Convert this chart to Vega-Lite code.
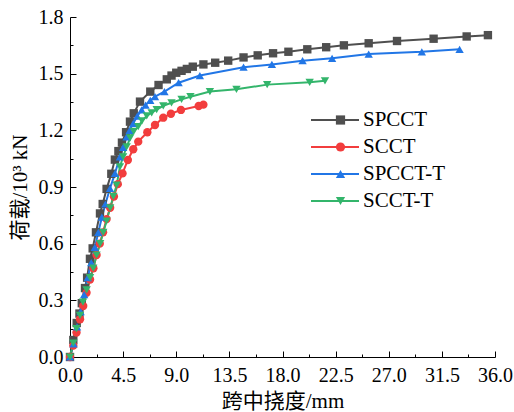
{
  "$schema": "https://vega.github.io/schema/vega-lite/v6.json",
  "width": 425,
  "height": 340,
  "autosize": {"type": "none"},
  "padding": {"left": 70, "top": 17, "right": 19, "bottom": 55},
  "background": "white",
  "config": {
    "view": {"stroke": null},
    "style": {"guide-label": {"font": "Liberation Serif", "fill": "black"}, "guide-title": {"font": "Liberation Serif, Noto Sans CJK SC", "fill": "black", "fontWeight": "normal"}},
    "axis": {"grid": false, "domainColor": "black", "domainWidth": 1, "tickColor": "black", "tickWidth": 1, "labelColor": "black", "titleColor": "black", "labelFont": "Liberation Serif", "titleFont": "Liberation Serif, Noto Sans CJK SC"},
    "legend": {"labelFont": "Liberation Serif"}
  },
  "data": {"values": [
    {"s":"SPCCT","x":0,"y":0},{"s":"SPCCT","x":0.28,"y":0.09},{"s":"SPCCT","x":0.57,"y":0.18},{"s":"SPCCT","x":0.8,"y":0.23},{"s":"SPCCT","x":1.0,"y":0.285},{"s":"SPCCT","x":1.27,"y":0.365},{"s":"SPCCT","x":1.45,"y":0.42},{"s":"SPCCT","x":1.69,"y":0.52},{"s":"SPCCT","x":1.92,"y":0.575},{"s":"SPCCT","x":2.2,"y":0.66},{"s":"SPCCT","x":2.54,"y":0.76},{"s":"SPCCT","x":2.77,"y":0.81},{"s":"SPCCT","x":3.1,"y":0.89},{"s":"SPCCT","x":3.5,"y":0.97},{"s":"SPCCT","x":3.8,"y":1.045},{"s":"SPCCT","x":4.1,"y":1.09},{"s":"SPCCT","x":4.4,"y":1.135},{"s":"SPCCT","x":4.75,"y":1.19},{"s":"SPCCT","x":5.08,"y":1.246},{"s":"SPCCT","x":5.4,"y":1.29},{"s":"SPCCT","x":5.93,"y":1.352},{"s":"SPCCT","x":6.8,"y":1.405},{"s":"SPCCT","x":7.5,"y":1.44},{"s":"SPCCT","x":8.2,"y":1.47},{"s":"SPCCT","x":8.6,"y":1.49},{"s":"SPCCT","x":9.0,"y":1.505},{"s":"SPCCT","x":9.45,"y":1.515},{"s":"SPCCT","x":9.9,"y":1.525},{"s":"SPCCT","x":10.4,"y":1.537},{"s":"SPCCT","x":11.3,"y":1.549},{"s":"SPCCT","x":12.3,"y":1.558},{"s":"SPCCT","x":13.4,"y":1.569},{"s":"SPCCT","x":14.7,"y":1.586},{"s":"SPCCT","x":15.9,"y":1.597},{"s":"SPCCT","x":17.2,"y":1.608},{"s":"SPCCT","x":18.5,"y":1.616},{"s":"SPCCT","x":20.1,"y":1.629},{"s":"SPCCT","x":21.7,"y":1.64},{"s":"SPCCT","x":23.2,"y":1.65},{"s":"SPCCT","x":25.3,"y":1.661},{"s":"SPCCT","x":27.7,"y":1.673},{"s":"SPCCT","x":30.8,"y":1.685},{"s":"SPCCT","x":33.6,"y":1.697},{"s":"SPCCT","x":35.4,"y":1.704},
    {"s":"SCCT","x":0,"y":0},{"s":"SCCT","x":0.28,"y":0.06},{"s":"SCCT","x":0.55,"y":0.13},{"s":"SCCT","x":0.85,"y":0.2},{"s":"SCCT","x":1.12,"y":0.27},{"s":"SCCT","x":1.4,"y":0.34},{"s":"SCCT","x":1.7,"y":0.41},{"s":"SCCT","x":1.98,"y":0.47},{"s":"SCCT","x":2.25,"y":0.54},{"s":"SCCT","x":2.52,"y":0.6},{"s":"SCCT","x":2.8,"y":0.66},{"s":"SCCT","x":3.1,"y":0.73},{"s":"SCCT","x":3.4,"y":0.79},{"s":"SCCT","x":3.72,"y":0.85},{"s":"SCCT","x":4.05,"y":0.915},{"s":"SCCT","x":4.45,"y":0.972},{"s":"SCCT","x":4.9,"y":1.043},{"s":"SCCT","x":5.36,"y":1.1},{"s":"SCCT","x":5.78,"y":1.14},{"s":"SCCT","x":6.55,"y":1.19},{"s":"SCCT","x":7.2,"y":1.228},{"s":"SCCT","x":7.9,"y":1.267},{"s":"SCCT","x":8.55,"y":1.288},{"s":"SCCT","x":9.4,"y":1.308},{"s":"SCCT","x":10.9,"y":1.329},{"s":"SCCT","x":11.3,"y":1.336},
    {"s":"SPCCT-T","x":0,"y":0},{"s":"SPCCT-T","x":0.3,"y":0.07},{"s":"SPCCT-T","x":0.6,"y":0.16},{"s":"SPCCT-T","x":0.9,"y":0.24},{"s":"SPCCT-T","x":1.2,"y":0.33},{"s":"SPCCT-T","x":1.5,"y":0.42},{"s":"SPCCT-T","x":1.8,"y":0.5},{"s":"SPCCT-T","x":2.1,"y":0.58},{"s":"SPCCT-T","x":2.4,"y":0.66},{"s":"SPCCT-T","x":2.7,"y":0.74},{"s":"SPCCT-T","x":3.0,"y":0.81},{"s":"SPCCT-T","x":3.39,"y":0.893},{"s":"SPCCT-T","x":3.81,"y":0.972},{"s":"SPCCT-T","x":4.23,"y":1.06},{"s":"SPCCT-T","x":4.5,"y":1.11},{"s":"SPCCT-T","x":4.8,"y":1.166},{"s":"SPCCT-T","x":5.05,"y":1.2},{"s":"SPCCT-T","x":5.36,"y":1.237},{"s":"SPCCT-T","x":5.7,"y":1.275},{"s":"SPCCT-T","x":6.07,"y":1.308},{"s":"SPCCT-T","x":6.4,"y":1.334},{"s":"SPCCT-T","x":6.8,"y":1.358},{"s":"SPCCT-T","x":7.2,"y":1.378},{"s":"SPCCT-T","x":8.0,"y":1.405},{"s":"SPCCT-T","x":9.2,"y":1.452},{"s":"SPCCT-T","x":11.0,"y":1.49},{"s":"SPCCT-T","x":14.7,"y":1.534},{"s":"SPCCT-T","x":17.1,"y":1.549},{"s":"SPCCT-T","x":19.7,"y":1.569},{"s":"SPCCT-T","x":22.2,"y":1.581},{"s":"SPCCT-T","x":25.3,"y":1.604},{"s":"SPCCT-T","x":29.8,"y":1.616},{"s":"SPCCT-T","x":33.0,"y":1.629},
    {"s":"SCCT-T","x":0,"y":0},{"s":"SCCT-T","x":0.28,"y":0.074},{"s":"SCCT-T","x":0.55,"y":0.15},{"s":"SCCT-T","x":0.85,"y":0.22},{"s":"SCCT-T","x":1.1,"y":0.29},{"s":"SCCT-T","x":1.41,"y":0.355},{"s":"SCCT-T","x":1.7,"y":0.42},{"s":"SCCT-T","x":1.97,"y":0.47},{"s":"SCCT-T","x":2.25,"y":0.54},{"s":"SCCT-T","x":2.55,"y":0.6},{"s":"SCCT-T","x":2.82,"y":0.66},{"s":"SCCT-T","x":3.1,"y":0.72},{"s":"SCCT-T","x":3.4,"y":0.79},{"s":"SCCT-T","x":3.67,"y":0.85},{"s":"SCCT-T","x":3.95,"y":0.91},{"s":"SCCT-T","x":4.23,"y":1.007},{"s":"SCCT-T","x":4.5,"y":1.06},{"s":"SCCT-T","x":4.8,"y":1.113},{"s":"SCCT-T","x":5.1,"y":1.16},{"s":"SCCT-T","x":5.4,"y":1.195},{"s":"SCCT-T","x":5.78,"y":1.219},{"s":"SCCT-T","x":6.1,"y":1.25},{"s":"SCCT-T","x":6.5,"y":1.276},{"s":"SCCT-T","x":6.92,"y":1.293},{"s":"SCCT-T","x":7.34,"y":1.31},{"s":"SCCT-T","x":7.9,"y":1.33},{"s":"SCCT-T","x":8.6,"y":1.346},{"s":"SCCT-T","x":9.45,"y":1.364},{"s":"SCCT-T","x":10.2,"y":1.378},{"s":"SCCT-T","x":11.85,"y":1.405},{"s":"SCCT-T","x":14.1,"y":1.417},{"s":"SCCT-T","x":16.7,"y":1.442},{"s":"SCCT-T","x":20.3,"y":1.454},{"s":"SCCT-T","x":21.6,"y":1.462}
  ]},
  "encoding": {
    "x": {"field": "x", "type": "quantitative", "scale": {"domain": [0, 36], "nice": false},
      "axis": {"title": "跨中挠度/mm", "values": [0,2.25,4.5,6.75,9,11.25,13.5,15.75,18,20.25,22.5,24.75,27,29.25,31.5,33.75,36],
        "labelExpr": "round(datum.value/2.25)%2==0 ? format(datum.value,'.1f') : ''",
        "tickSize": {"condition": {"test": "round(datum.value/2.25)%2==0", "value": -6}, "value": -3},
        "labelFont": "Liberation Serif", "labelFontSize": 20, "titleFont": "Liberation Serif, Noto Sans CJK SC", "titleFontSize": 21, "titleFontWeight": "normal",
        "labelPadding": 14, "labelFlush": false, "labelOverlap": false, "titlePadding": 2}},
    "y": {"field": "y", "type": "quantitative", "scale": {"domain": [0, 1.8], "nice": false},
      "axis": {"title": "荷载/10³ kN", "values": [0,0.15,0.3,0.45,0.6,0.75,0.9,1.05,1.2,1.35,1.5,1.65,1.8],
        "labelExpr": "round(datum.value/0.15)%2==0 ? format(datum.value,'.1f') : ''",
        "tickSize": {"condition": {"test": "round(datum.value/0.15)%2==0", "value": -6}, "value": -3},
        "labelFont": "Liberation Serif", "labelFontSize": 20, "titleFont": "Liberation Serif, Noto Sans CJK SC", "titleFontSize": 21, "titleFontWeight": "normal",
        "labelPadding": 13, "labelFlush": false, "labelOverlap": false, "titlePadding": 8}}
  },
  "layer": [
    {"mark": {"type": "line", "strokeWidth": 2},
      "encoding": {"color": {"field": "s", "type": "nominal", "sort": ["SPCCT", "SCCT", "SPCCT-T", "SCCT-T"],
        "scale": {"range": ["#4f4f4f", "#f23d3d", "#2176e6", "#33b56b"]},
        "legend": {"orient": "none", "legendX": 240, "legendY": 93, "title": null, "padding": 0,
          "symbolType": "stroke", "symbolSize": 2304, "symbolStrokeWidth": 2, "clipHeight": 20, "rowPadding": 6,
          "labelFont": "Liberation Serif", "labelFontSize": 21, "labelColor": "black", "labelOffset": 3, "zindex": 0}}}},
    {"mark": {"type": "point", "filled": true, "opacity": 1, "size": 70},
      "encoding": {
        "fill": {"field": "s", "type": "nominal",
          "scale": {"domain": ["SPCCT", "SCCT", "SPCCT-T", "SCCT-T"], "range": ["#4f4f4f", "#f23d3d", "#2176e6", "#33b56b"]},
          "legend": {"orient": "none", "legendX": 260, "legendY": 93, "title": null, "padding": 0,
            "symbolSize": 85, "symbolStrokeWidth": 0, "symbolOpacity": 1, "clipHeight": 20, "rowPadding": 6,
            "labelExpr": "''", "labelFontSize": 21, "labelOffset": 0, "zindex": 1}},
        "shape": {"field": "s", "type": "nominal",
          "scale": {"domain": ["SPCCT", "SCCT", "SPCCT-T", "SCCT-T"], "range": ["square", "circle", "triangle-up", "triangle-down"]},
          "legend": {"orient": "none", "legendX": 260, "legendY": 93, "title": null, "padding": 0,
            "symbolSize": 85, "symbolStrokeWidth": 0, "symbolOpacity": 1, "clipHeight": 20, "rowPadding": 6,
            "labelExpr": "''", "labelFontSize": 21, "labelOffset": 0, "zindex": 1}}}}
  ]
}
